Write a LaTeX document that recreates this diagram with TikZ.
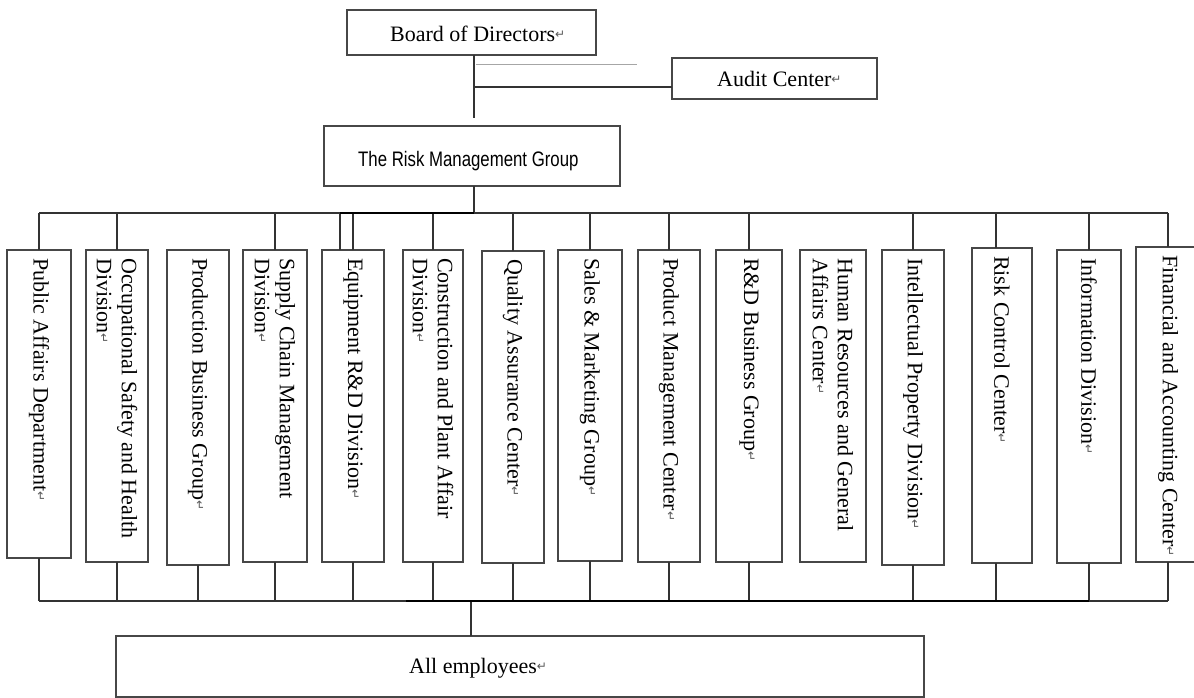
\documentclass[tikz,border=0pt]{standalone}
\usepackage{fontspec}
\setmainfont{Liberation Serif}
\newfontfamily\arialfont{Liberation Sans}
\newfontfamily\symfont{DejaVu Sans}
\usetikzlibrary{calc}
% Word-style paragraph mark after each label
\newcommand\retmark{{\symfont\fontsize{12}{12}\selectfont\color{black!65}\raisebox{3pt}{↵}}}

\begin{document}
\begin{tikzpicture}[x=1pt,y=-1pt,
  box/.style={draw=black!72, line width=1.4pt, rectangle, inner sep=0pt, outer sep=0pt},
  link/.style={draw=black!80, line width=1.4pt},
  trunkline/.style={draw=black, line width=2.6pt},
  serif/.style={font=\fontsize{22}{25}\selectfont},
  lbl/.style={serif, anchor=base west, inner sep=0pt},
  dept/.style={serif, rotate=-90, anchor=west, align=left, inner sep=0pt},
]
\useasboundingbox (0,0) rectangle (1194,698);

% top of the chart
\node[box, minimum width=249pt, minimum height=45pt] (board) at (471.5,32.5) {};
\node[box, minimum width=205pt, minimum height=41pt] (audit) at (774.5,78.5) {};
\node[box, minimum width=296pt, minimum height=60pt] (rmg)   at (472,156) {};
\node[box, minimum width=808pt, minimum height=61pt] (all)   at (520,666.5) {};

\node[lbl] at ($(board.west)+(43,9.5)$) {Board of Directors\retmark};
\node[lbl] at ($(audit.west)+(45,8.5)$) {Audit Center\retmark};
\node[anchor=base west, inner sep=0pt, xscale=0.8,
      font=\arialfont\fontsize{21}{25}\selectfont] at ($(rmg.west)+(34,11)$) {The Risk Management Group};
\node[lbl] at ($(all.west)+(293,6.5)$) {All employees\retmark};

% departments: name / centre x / width / top / bottom
\foreach \n/\cx/\w/\ya/\yb in {
  d1/39/64/250/558, d2/117/62/250/562, d3/198/62/250/565, d4/275/64/250/562,
  d5/353/62/250/562, d6/433/60/250/562, d7/513/62/251/563, d8/590/64/250/561,
  d9/669/62/250/562, d10/749/66/250/562, d11/833/66/250/562, d12/913/62/250/565,
  d13/1002/60/248/563, d14/1089/64/250/563, d15/1168/64/247/562}{
  \pgfmathsetmacro\cy{(\ya+\yb)/2}
  \pgfmathsetmacro\h{\yb-\ya}
  \node[box, minimum width=\w pt, minimum height=\h pt] (\n) at (\cx,\cy) {};
}

\node[dept] at ($(d1.north)+(0,8)$)  {Public Affairs Department\retmark};
\node[dept] at ($(d2.north)+(0,8)$)  {Occupational Safety and Health\\Division\retmark};
\node[dept] at ($(d3.north)+(0,8)$)  {Production Business Group\retmark};
\node[dept] at ($(d4.north)+(0,8)$)  {Supply Chain Management\\Division\retmark};
\node[dept] at ($(d5.north)+(0,8)$)  {Equipment R\&D Division\retmark};
\node[dept] at ($(d6.north)+(0,8)$)  {Construction and Plant Affair\\Division\retmark};
\node[dept] at ($(d7.north)+(0,8)$)  {Quality Assurance Center\retmark};
\node[dept] at ($(d8.north)+(0,8)$)  {Sales \& Marketing Group\retmark};
\node[dept] at ($(d9.north)+(0,8)$)  {Product Management Center\retmark};
\node[dept] at ($(d10.north)+(0,8)$) {R\&D Business Group\retmark};
\node[dept] at ($(d11.north)+(0,8)$) {Human Resources and General\\Affairs Center\retmark};
\node[dept] at ($(d12.north)+(0,8)$) {Intellectual Property Division\retmark};
\node[dept] at ($(d13.north)+(0,8)$) {Risk Control Center\retmark};
\node[dept] at ($(d14.north)+(0,8)$) {Information Division\retmark};
\node[dept] at ($(d15.north)+(0,8)$) {Financial and Accounting Center\retmark};

% bus levels
\coordinate (tb) at (0,213);
\coordinate (bb) at (0,601);

% board -> risk management group, with the audit branch
\coordinate (bt) at ($(board.south)+(2.5,0)$);
\draw[link, shorten >=8pt] (bt) -- (bt |- rmg.north);
\coordinate (aj) at ($(bt)+(0,32)$);
\draw[link] (aj) -- (aj -| audit.west);
\coordinate (g1) at ($(bt)+(2,10)$);
\coordinate (g2) at ($(g1)+(161,0)$);
\draw[black!35, line width=1pt] (g1) -- (g2);

% risk management group -> upper bus
\coordinate (trunk) at ($(rmg.south)+(2,0)$);
\draw[link] (trunk) -- (trunk |- tb);
\draw[link] (d1.north |- tb) -- (d15.north |- tb);
\coordinate (eq) at ($(d5.north)+(-13,0)$);
\draw[link] (eq) -- (eq |- tb);
\foreach \n in {d1,d2,d4,d5,d6,d7,d8,d9,d10,d12,d14,d15}
  \draw[link] (\n.north) -- (\n.north |- tb);
\coordinate (rc) at ($(d13.north)+(-6,0)$);
\draw[link] (rc) -- (rc |- tb);
\draw[trunkline] (eq |- tb) -- (trunk |- tb);

% lower bus -> all employees
\draw[link] (d1.south |- bb) -- (d15.south |- bb);
\foreach \n in {d1,d2,d3,d4,d5,d6,d7,d8,d9,d10,d12,d14,d15}
  \draw[link] (\n.south) -- (\n.south |- bb);
\coordinate (rb) at ($(d13.south)+(-6,0)$);
\draw[link] (rb) -- (rb |- bb);
\coordinate (ae) at ($(all.north)+(-49,0)$);
\draw[link] (ae) -- (ae |- bb);
\coordinate (cs) at ($(d6.south)+(-27,0)$);
\draw[trunkline] (cs |- bb) -- (d14.south |- bb);
\end{tikzpicture}
\end{document}
